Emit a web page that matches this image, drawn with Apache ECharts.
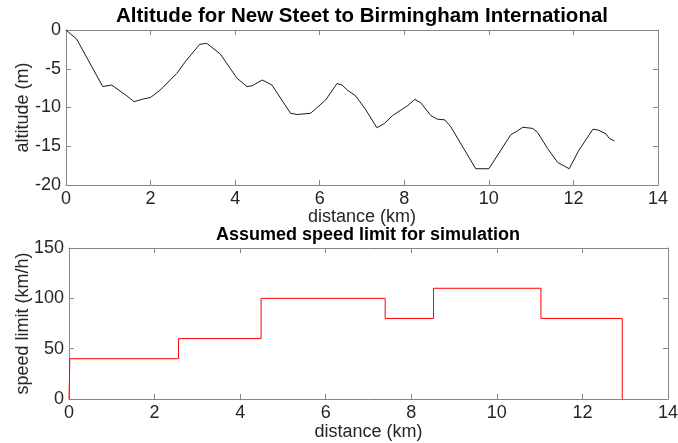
<!DOCTYPE html>
<html><head><meta charset="utf-8">
<script src="https://cdn.jsdelivr.net/npm/echarts@6/dist/echarts.min.js"></script>
<style>html,body{margin:0;padding:0;background:#fff}#c{width:678px;height:443px}</style>
</head><body><div id="c"></div>
<script>
const altDist = [0,0.25,0.87,1.08,1.44,1.61,1.79,2.0,2.23,2.62,2.82,3.16,3.33,3.65,4.04,4.28,4.4,4.64,4.87,5.31,5.47,5.78,5.92,6.14,6.41,6.53,6.65,6.85,7.09,7.35,7.52,7.72,8.07,8.25,8.39,8.63,8.78,8.96,9.1,9.69,10.0,10.52,10.68,10.8,11.04,11.15,11.39,11.63,11.9,12.12,12.46,12.58,12.77,12.85,12.97];
const altValue = [0,-1.16,-7.3,-7.1,-8.5,-9.25,-8.95,-8.7,-7.74,-5.6,-4.1,-1.85,-1.72,-3.1,-6.2,-7.3,-7.2,-6.45,-7.1,-10.75,-10.9,-10.75,-10.1,-9.03,-6.9,-7.1,-7.74,-8.5,-10.3,-12.6,-12.1,-11.05,-9.8,-8.95,-9.4,-11.05,-11.5,-11.6,-12.5,-17.9,-17.9,-13.5,-13.0,-12.55,-12.7,-13.2,-15.3,-17.1,-17.9,-15.6,-12.8,-12.9,-13.4,-14.0,-14.3];
const speedDist = [0,0.02,2.56,4.49,7.39,8.52,11.03,12.93];
const speedValue = [0,40,60,100,80,110,80,0];
const xTicks = [0,2,4,6,8,10,12,14];
const altTicks = [-20,-15,-10,-5,0];
const speedTicks = [0,50,100,150];

const font = 'Liberation Sans, Arial, sans-serif';
const axisCol = '#868686';
const txtCol = '#262626';
function frameAxis(opts){
  return Object.assign({
    type:'value',
    axisLine:{show:true,onZero:false,lineStyle:{color:axisCol,width:1}},
    axisTick:{show:true,inside:true,length:5,lineStyle:{color:axisCol}},
    splitLine:{show:false},
    axisLabel:{show:false},
    nameMoveOverlap:false
  }, opts);
}
const lab = {show:true,margin:5,fontFamily:font,fontSize:18,color:txtCol};
const nm = {fontFamily:font,fontSize:18,color:txtCol};
const chart = echarts.init(document.getElementById('c'));
chart.setOption({
  animation:false,
  title:[
    {text:'Altitude for New Steet to Birmingham International',left:357,top:1,textAlign:'center',
     textStyle:{fontFamily:font,fontWeight:'bold',fontSize:20.5,color:'#000'}},
    {text:'Assumed speed limit for simulation',left:363,top:221,textAlign:'center',
     textStyle:{fontFamily:font,fontWeight:'bold',fontSize:18,color:'#000'}}
  ],
  grid:[
    {left:66,top:30,width:592,height:155,containLabel:false,outerBoundsMode:'none'},
    {left:69,top:248,width:599,height:151,containLabel:false,outerBoundsMode:'none'}
  ],
  xAxis:[
    frameAxis({gridIndex:0,position:'bottom',min:xTicks[0],max:xTicks[xTicks.length-1],interval:2,
      axisLabel:lab,name:'distance (km)',nameLocation:'middle',nameGap:23,nameTextStyle:nm}),
    frameAxis({gridIndex:0,position:'top',min:0,max:14,interval:2}),
    frameAxis({gridIndex:1,position:'bottom',min:xTicks[0],max:xTicks[xTicks.length-1],interval:2,
      axisLabel:lab,name:'distance (km)',nameLocation:'middle',nameGap:24,nameTextStyle:nm}),
    frameAxis({gridIndex:1,position:'top',min:0,max:14,interval:2})
  ],
  yAxis:[
    frameAxis({gridIndex:0,position:'left',min:altTicks[0],max:altTicks[altTicks.length-1],interval:5,
      axisLabel:lab,name:'altitude (m)',nameLocation:'middle',nameGap:34,nameTextStyle:nm}),
    frameAxis({gridIndex:0,position:'right',min:-20,max:0,interval:5}),
    frameAxis({gridIndex:1,position:'left',min:speedTicks[0],max:speedTicks[speedTicks.length-1],interval:50,
      axisLabel:lab,name:'speed limit (km/h)',nameLocation:'middle',nameGap:37,nameTextStyle:nm}),
    frameAxis({gridIndex:1,position:'right',min:0,max:150,interval:50})
  ],
  series:[
    {type:'line',xAxisIndex:0,yAxisIndex:0,showSymbol:false,smooth:false,
     data:altDist.map((d,i)=>[d,altValue[i]]),lineStyle:{color:'#1a1a1a',width:1}},
    {type:'line',xAxisIndex:2,yAxisIndex:2,showSymbol:false,step:'end',
     data:speedDist.map((d,i)=>[d,speedValue[i]]),lineStyle:{color:'#ff0000',width:1}}
  ]
});
</script></body></html>
